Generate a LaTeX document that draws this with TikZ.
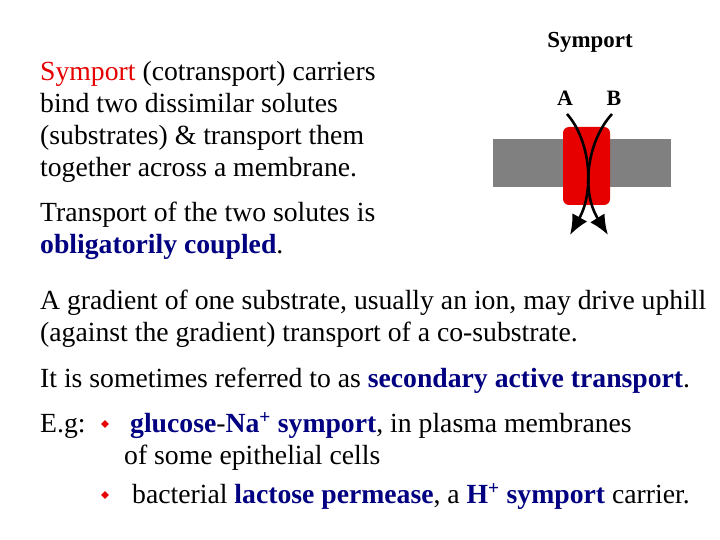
\documentclass[tikz,border=0pt]{standalone}
\usepackage{fontspec}
\setmainfont{Liberation Serif}
\usetikzlibrary{shapes.geometric,arrows.meta}
\definecolor{dblue}{RGB}{0,0,128}
\definecolor{sred}{RGB}{230,0,0}
\begin{document}
\begin{tikzpicture}[x=1bp,y=-1bp,
  txt/.style={anchor=base west,inner sep=0,font=\fontsize{27.8}{30}\selectfont},
  bul/.style={diamond,fill=sred,inner sep=0,minimum size=8bp},
  arr/.style={line width=2.6pt,-{Latex[length=20bp,width=17bp]}}]
\useasboundingbox (0,0) rectangle (720,540);
\node[txt] (l1) at (40,81) {\textcolor{sred}{Symport} (cotransport) carriers};
\node[txt] (l2) at (40,113) {bind two dissimilar solutes};
\node[txt] (l3) at (40,145) {(substrates) \& transport them};
\node[txt] (l4) at (40,177) {together across a membrane.};
\node[txt] (l5) at (40,222) {Transport of the two solutes is};
\node[txt] (l6) at (40,254) {\textcolor{dblue}{\bfseries obligatorily coupled}.};
\node[txt] (l7) at (40,309) {A gradient of one substrate, usually an ion, may drive uphill};
\node[txt] (l8) at (40,341) {(against the gradient) transport of a co-substrate.};
\node[txt] (l9) at (40,387) {It is sometimes referred to as \textcolor{dblue}{\bfseries secondary active transport}.};
\node[txt] (l10) at (40,432) {E.g:};
\node[bul] (b1) at (105,424) {};
\node[txt] (l11) at (130,432) {\textcolor{dblue}{\bfseries glucose}-\textcolor{dblue}{\bfseries Na\textsuperscript{+} symport}, in plasma membranes};
\node[txt] (l12) at (124,464) {of some epithelial cells};
\node[bul] (b2) at (105,495) {};
\node[txt] (l13) at (132,503) {bacterial \textcolor{dblue}{\bfseries lactose permease}, a \textcolor{dblue}{\bfseries H\textsuperscript{+} symport} carrier.};
% figure
\node[anchor=base,inner sep=0,font=\fontsize{23}{26}\selectfont\bfseries] (title) at (590,48) {Symport};
\fill[gray] (493,139) rectangle (671,187);
\fill[sred,rounded corners=6bp] (563,127) rectangle (610,205);
\node[anchor=base,inner sep=0,font=\fontsize{22}{26}\selectfont\bfseries] (A) at (565,106) {A};
\node[anchor=base,inner sep=0,font=\fontsize{22}{26}\selectfont\bfseries] (B) at (614,106) {B};
\coordinate (a0) at (567,114);
\coordinate (a1) at (570,235);
\coordinate (b0) at (612,114);
\coordinate (b1e) at (608,235);
\draw[arr] (a0) .. controls (590,140) and (595,190) .. (a1);
\draw[arr] (b0) .. controls (588,140) and (580,190) .. (b1e);
\end{tikzpicture}
\end{document}
